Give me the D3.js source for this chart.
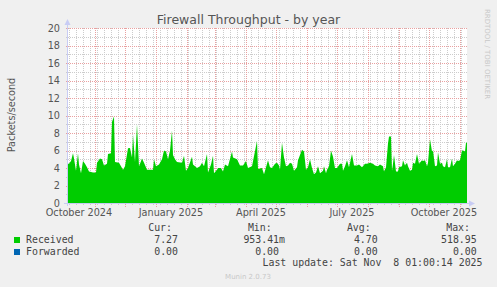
<!DOCTYPE html>
<html>
<head>
<meta charset="utf-8">
<script src="https://cdn.jsdelivr.net/npm/d3@7"></script>
<style>
body { margin: 0; background: #f0f0f0; }
</style>
</head>
<body>
<div id="T"></div>
<script>
// day offsets from graph start and the values read at them (packets/second)
const dayOffsets = [0,2,4,6,7,9,11,12,14,16,18,20,22,26,29,30,33,35,37,40,41,44,45,47,48,52,56,58,61,63,65,66,68,70,72,75,77,80,86,87,89,92,95,97,99,101,103,105,106,108,110,115,117,119,121,125,126,130,133,135,137,140,141,144,146,147,150,151,154,156,158,161,165,166,170,173,176,179,181,185,190,191,195,197,199,201,203,205,208,210,212,213,215,217,219,221,223,225,227,230,231,233,235,237,239,241,243,245,247,249,251,253,256,257,259,260,262,264,266,268,270,273,275,276,278,280,282,285,287,290,292,295,298,300,303,306,308,311,313,316,317,319,321,322,324,325,326,327,329,331,332,335,336,338,340,341,343,345,346,348,350,352,355,356,358,360,361,363,365,366,368,370,371,373,375,376,378,380,381,383,385,386,388,390,391,393,395,396,398,399,400];
const received = [4.5,4.5,4.8,5.7,5.1,3.7,5.7,4.4,3.4,4.8,4.5,4.1,3.6,3.5,3.5,4.6,5.1,5.0,4.3,4.5,5.6,5.7,9.3,9.9,4.7,4.6,3.8,4.2,6.25,6.3,5.2,7.8,4.7,9.0,4.2,5.1,4.6,3.8,3.8,5.0,4.2,4.4,5.0,6.0,5.9,5.0,6.0,8.3,5.5,5.0,4.7,4.6,5.4,3.7,4.0,5.3,4.4,4.0,4.2,4.6,4.2,5.6,3.5,4.4,5.4,3.4,3.8,4.0,4.0,3.6,4.4,4.2,5.9,5.2,5.0,4.3,4.3,4.8,4.0,4.2,7.1,3.9,4.0,3.3,4.1,4.9,4.1,4.0,4.5,4.6,4.3,3.8,6.9,5.2,4.2,4.3,4.6,4.5,3.7,4.1,4.9,5.5,6.1,5.9,3.8,4.1,5.0,4.0,3.3,3.5,4.2,3.4,3.7,4.2,3.4,3.8,4.2,6.0,5.3,4.0,4.0,4.5,4.5,3.7,4.2,4.9,4.1,5.6,4.3,4.3,4.4,4.1,4.5,4.5,4.6,4.5,4.3,4.2,4.4,4.2,3.6,4.1,6.8,7.6,7.6,3.7,4.5,5.5,3.6,3.6,4.1,4.2,4.9,4.3,4.6,4.2,3.7,3.8,4.6,4.5,5.6,4.5,4.9,4.8,4.9,4.2,4.6,7.3,5.9,6.0,4.2,4.3,5.8,4.5,4.6,4.2,4.1,5.0,4.1,4.1,5.1,4.2,4.5,4.9,4.8,4.9,6.0,6.0,5.9,6.9,6.9];

const yTicks = [0,2,4,6,8,10,12,14,16,18,20];
const seriesNames = ["Received", "Forwarded"];
const curVals = ["7.27", "0.00"];
const minVals = ["953.41m", "0.00"];
const avgVals = ["4.70", "0.00"];
const maxVals = ["518.95", "0.00"];
const seriesColors = ["#00cc00", "#0066b3"];

const endDate = new Date(2025, 10, 8, 1, 0, 14);
const startDate = d3.timeDay.offset(endDate, -400);

const W = 497, H = 287;
const pLeft = 67, pRight = 467, pTop = 28, pBottom = 203;

const SVG = d3.select('#T').append('svg')
    .attr("width", W)
    .attr("height", H)
    .style("display", "block")
    .style("background", "#f0f0f0");

const x = d3.scaleTime().domain([startDate, endDate]).range([pLeft, pRight]);
const y = d3.scaleLinear().domain([0, 20]).range([pBottom, pTop]);

// plot canvas
SVG.append("rect").attr("x", pLeft).attr("y", pTop).attr("width", pRight - pLeft).attr("height", pBottom - pTop)
    .attr("fill", "#ffffff");

// dotted grid lines as 1px rects filled with a 2px pattern (keeps the dots crisp)
const defs = SVG.append("defs");
function dots(id, col, horiz) {
    const p = defs.append("pattern").attr("id", id).attr("patternUnits", "userSpaceOnUse")
        .attr("width", horiz ? 2 : 1).attr("height", horiz ? 1 : 2);
    p.append("rect").attr("width", 1).attr("height", 1).attr("fill", col);
}
const minorCol = "#cccccc", majorCol = "#e9a0a0";
dots("minH", minorCol, true); dots("minV", minorCol, false);
dots("majH", majorCol, true); dots("majV", majorCol, false);

const grid = SVG.append("g").attr("shape-rendering", "crispEdges");
function hLine(v, pat) {
    grid.append("rect").attr("x", pLeft - 2).attr("y", Math.round(y(v))).attr("width", pRight - pLeft + 2).attr("height", 1)
        .attr("fill", `url(#${pat})`);
}
function vLine(d, pat, ext) {
    grid.append("rect").attr("x", Math.round(x(d))).attr("y", pTop).attr("width", 1).attr("height", pBottom - pTop + ext)
        .attr("fill", `url(#${pat})`);
}

// minor grid: every unit / every week
d3.range(1, 20, 2).forEach(v => hLine(v, "minH"));
d3.timeSunday.range(startDate, endDate).filter(d => d.getDate() != 1).forEach(d => vLine(d, "minV", 2));

// major grid: every 2 / every month
yTicks.filter(v => v > 0).forEach(v => hLine(v, "majH"));
d3.timeMonth.range(startDate, endDate).forEach(d => vLine(d, "majV", 4));

// the area
const pts = dayOffsets.map((d, i) => [d3.timeHour.offset(startDate, d * 24), received[i]]);
const area = d3.area()
    .x(d => x(d[0]))
    .y0(y(0))
    .y1(d => y(d[1]))
    .curve(d3.curveLinear);
SVG.append("path").datum(pts).attr("d", area).attr("fill", seriesColors[0]);

// axes
const axisCol = "#c8ccf4";
SVG.append("line").attr("x1", pLeft + 0.5).attr("x2", pLeft + 0.5).attr("y1", pTop - 4).attr("y2", pBottom + 3)
    .attr("stroke", axisCol).attr("shape-rendering", "crispEdges");
SVG.append("line").attr("x1", pLeft - 3).attr("x2", pRight + 2).attr("y1", pBottom + 0.5).attr("y2", pBottom + 0.5)
    .attr("stroke", axisCol).attr("shape-rendering", "crispEdges");
SVG.append("path").attr("d", `M${pLeft - 2.5},${pTop - 3} L${pLeft + 3.5},${pTop - 3} L${pLeft + 0.5},${pTop - 9} Z`).attr("fill", axisCol);
SVG.append("path").attr("d", `M${pRight + 2},${pBottom - 2.5} L${pRight + 2},${pBottom + 3.5} L${pRight + 8},${pBottom + 0.5} Z`).attr("fill", axisCol);

// y tick labels
SVG.selectAll(".ylab").data(yTicks).enter().append("text")
    .attr("x", 60).attr("y", d => y(d) + 3.5)
    .attr("text-anchor", "end")
    .attr("font-family", "DejaVu Sans").attr("font-size", "9.7px").attr("fill", "#555")
    .text(d => d);

// x labels, centred half a month after the quarter start
const quarters = d3.timeMonth.every(3).range(new Date(2024, 9, 1), endDate);
quarters.forEach(q => {
    const c = d3.timeDay.offset(q, 15);
    if (x(c) < pLeft || x(c) > pRight) return;
    SVG.append("text").attr("x", x(c)).attr("y", 216)
        .attr("text-anchor", "middle")
        .attr("font-family", "DejaVu Sans").attr("font-size", "9.7px").attr("fill", "#555")
        .text(d3.timeFormat("%B %Y")(q));
});

// title and y label
SVG.append("text").attr("x", 248.5).attr("y", 24)
    .attr("text-anchor", "middle")
    .attr("font-family", "DejaVu Sans").attr("font-size", "12.5px").attr("fill", "#555")
    .text("Firewall Throughput - by year");
SVG.append("text").attr("transform", "translate(15,115) rotate(-90)")
    .attr("text-anchor", "middle")
    .attr("font-family", "DejaVu Sans").attr("font-size", "9.7px").attr("fill", "#555")
    .text("Packets/second");
SVG.append("text").attr("transform", "translate(485,54) rotate(90)")
    .attr("text-anchor", "middle")
    .attr("font-family", "DejaVu Sans").attr("font-size", "7px").attr("fill", "#c8c8c8")
    .text("RRDTOOL / TOBI OETIKER");

// legend
const mono = "DejaVu Sans Mono";
const legend = SVG.append("g").attr("font-family", mono).attr("font-size", "9.9px").attr("fill", "#444");
[["Cur:", 172], ["Min:", 271.7], ["Avg:", 370.7], ["Max:", 470]].forEach(h => {
    legend.append("text").attr("x", h[1]).attr("y", 231).attr("text-anchor", "end").text(h[0]);
});
seriesNames.forEach((name, i) => {
    const by = 243 + i * 12;
    legend.append("rect").attr("x", 14).attr("y", by - 6).attr("width", 6).attr("height", 6).attr("fill", seriesColors[i]);
    legend.append("text").attr("x", 26).attr("y", by).text(name);
    const col = (val, xEnd) => {
        const hasUnit = /[a-zA-Z]$/.test(val);
        legend.append("text").attr("x", hasUnit ? xEnd : xEnd - 6).attr("y", by).attr("text-anchor", "end").text(val);
    };
    col(curVals[i], 184);
    col(minVals[i], 285);
    col(avgVals[i], 383.7);
    col(maxVals[i], 482.7);
});
legend.append("text").attr("x", 482.5).attr("y", 266).attr("text-anchor", "end").attr("xml:space", "preserve")
    .style("white-space", "pre")
    .text("Last update: Sat Nov  8 01:00:14 2025");

SVG.append("text").attr("x", 248).attr("y", 279)
    .attr("text-anchor", "middle")
    .attr("font-family", "DejaVu Sans").attr("font-size", "7px").attr("fill", "#c8c8c8")
    .text("Munin 2.0.73");
console.log('drawn');
</script>
</body>
</html>
